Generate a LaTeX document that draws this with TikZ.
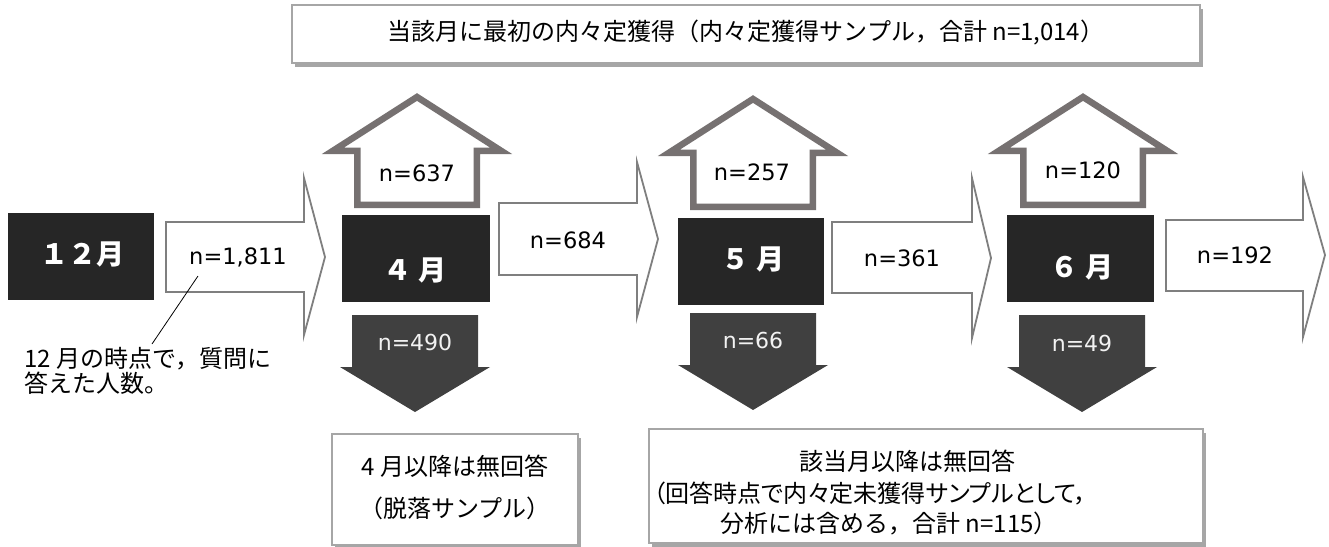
\documentclass[tikz,border=0pt]{standalone}
\usepackage{fontspec}
\setmainfont{DejaVu Sans}
\newfontfamily\jp{Noto Sans CJK JP}
\newfontfamily\jpp[RawFeature=+palt]{Noto Sans CJK JP}
\usetikzlibrary{shadows}
\definecolor{boxblack}{HTML}{262626}
\definecolor{downgray}{HTML}{404040}
\definecolor{upgray}{HTML}{767171}
\definecolor{arrgray}{HTML}{7F7F7F}
\definecolor{framegray}{HTML}{A6A6A6}
\definecolor{lighttext}{HTML}{F2F2F2}
\newcommand\UpArrowShape[2]{%
  \draw[uparr] (#1,#2+4) -- (#1+84,#2+57.75) -- (#1+59.75,#2+57.75) -- (#1+59.75,#2+111.75)
    -- (#1-59.75,#2+111.75) -- (#1-59.75,#2+57.75) -- (#1-84,#2+57.75) -- cycle;}
\newcommand\DownArrowShape[2]{%
  \fill[downgray] (#1-63,#2) -- (#1+63,#2) -- (#1+63,#2+52) -- (#1+75,#2+52) -- (#1,#2+97)
    -- (#1-75,#2+52) -- (#1-63,#2+52) -- cycle;}
\tikzset{
  uparr/.style={draw=upgray, line width=6.5pt, fill=white, line join=miter},
  rarr/.style={draw=arrgray, line width=1.8pt, fill=white, line join=miter},
  monthbox/.style={fill=boxblack, draw=none, inner sep=0pt},
  monthtext/.style={text=white, font=\jp\bfseries\fontsize{28}{32}\selectfont, inner sep=0pt},
  numtext/.style={font=\fontsize{22.5}{26}\selectfont, inner sep=0pt},
  downtext/.style={font=\fontsize{22}{26}\selectfont, text=lighttext, inner sep=0pt},
  notebox/.style={draw=framegray, line width=2pt, fill=white, inner sep=0pt,
    drop shadow={shadow xshift=3pt, shadow yshift=-4pt, fill=black, opacity=0.35}},
  jptext/.style={font=\jp\fontsize{24}{28}\selectfont, inner sep=0pt},
}
\begin{document}
\begin{tikzpicture}[x=1pt,y=-1pt]
\useasboundingbox (0,0) rectangle (1329,546);
\fill[white] (0,0) rectangle (1329,546);
% top box
\node[notebox, minimum width=908pt, minimum height=58pt] (top) at (746,34) {};
\node[jptext] (toptext) at (746,33) {当該月に最初の内々定獲得（内々定獲得サンプル，合計 n=1,014）};
% up arrows
\UpArrowShape{417}{93}
\UpArrowShape{753}{95}
\UpArrowShape{1083}{93}
\node[numtext] (u4) at (417,173) {n=637};
\node[numtext] (u5) at (752,172) {n=257};
\node[numtext] (u6) at (1083,170) {n=120};
% right arrows
\draw[rarr] (166,222) -- (304,222) -- (304,178) -- (325,257) -- (304,335) -- (304,292) -- (166,292) -- cycle;
\draw[rarr] (499,203) -- (637,203) -- (637,162) -- (658,239) -- (637,317) -- (637,275) -- (499,275) -- cycle;
\draw[rarr] (832,222) -- (972,222) -- (972,178) -- (991,258) -- (972,338) -- (972,293) -- (832,293) -- cycle;
\draw[rarr] (1166,220) -- (1303,220) -- (1303,177) -- (1325,255) -- (1303,337) -- (1303,291) -- (1166,291) -- cycle;
\node[numtext] (r1) at (238,257) {n=1,811};
\node[numtext] (r2) at (568,240) {n=684};
\node[numtext] (r3) at (902,258) {n=361};
\node[numtext] (r4) at (1235,255) {n=192};
% month boxes
\node[monthbox, minimum width=146pt, minimum height=87pt] (m12) at (81,256.5) {};
\node[monthbox, minimum width=148pt, minimum height=87pt] (m4) at (416,258.5) {};
\node[monthbox, minimum width=146pt, minimum height=87pt] (m5) at (751,261.5) {};
\node[monthbox, minimum width=147pt, minimum height=87pt] (m6) at (1080.5,258.5) {};
\node[monthtext] (t12) at (82,254) {１２月};
\node[monthtext] (t4) at (415,270) {４\hspace{8pt}月};
\node[monthtext] (t5) at (753,259) {５\hspace{8pt}月};
\node[monthtext] (t6) at (1082,267) {６\hspace{8pt}月};
% down arrows
\DownArrowShape{415}{315}
\DownArrowShape{753}{313}
\DownArrowShape{1082}{315}
\node[downtext] (d4) at (415,342) {n=490};
\node[downtext] (d5) at (753,340) {n=66};
\node[downtext] (d6) at (1082,343) {n=49};
% callout
\coordinate (c1) at (198,276);
\coordinate (c2) at (152,344);
\draw[black, line width=0.8pt] (c1) -- (c2);
\node[jptext, anchor=north west, align=left, font=\jp\fontsize{24}{25}\selectfont] (note) at (24,347) {12 月の時点で，質問に\\答えた人数。};
% bottom boxes
\node[notebox, minimum width=246pt, minimum height=111pt] (b1) at (455,489.5) {};
\node[jptext] (b1a) at (455,466) {4 月以降は無回答};
\node[jptext] (b1b) at (455,508) {（脱落サンプル）};
\node[notebox, minimum width=554pt, minimum height=114pt] (b2) at (926,486) {};
\node[jptext] (b2a) at (907,461) {該当月以降は無回答};
\node[jptext, font=\jpp\fontsize{24}{28}\selectfont] (b2b) at (870,494) {（回答時点で内々定未獲得サンプルとして，};
\node[jptext] (b2c) at (889,524) {分析には含める，合計 n=115）};
\end{tikzpicture}
\end{document}
